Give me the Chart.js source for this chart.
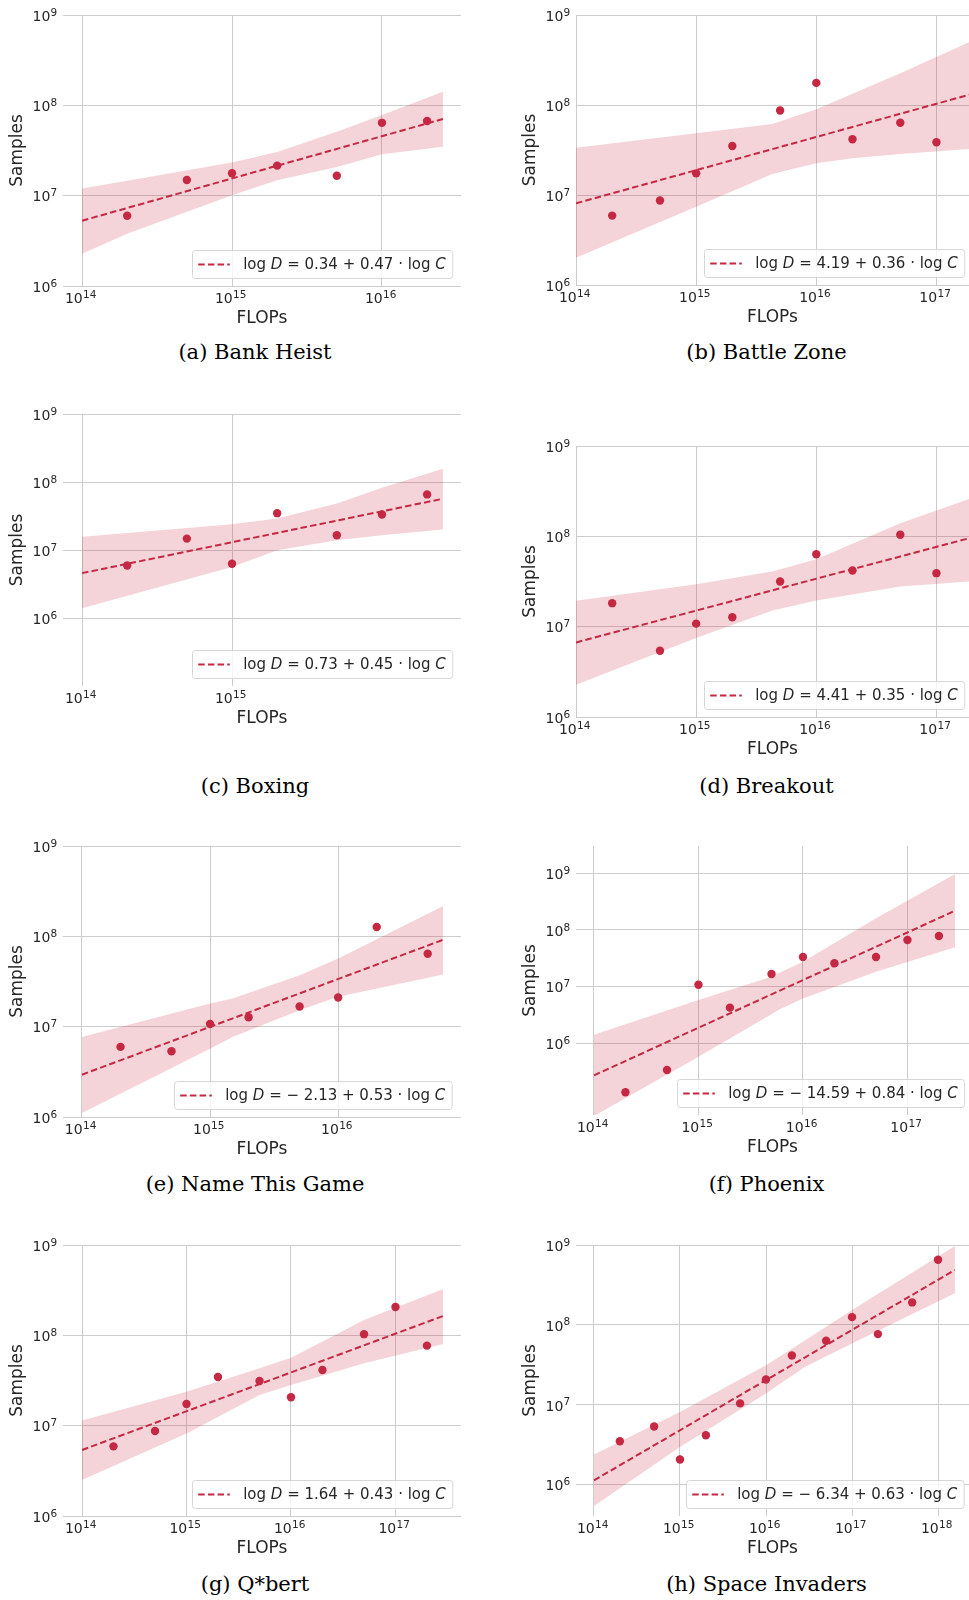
<!DOCTYPE html>
<html>
<head>
<meta charset="utf-8">
<script src="https://cdn.jsdelivr.net/npm/chart.js@4.4.1/dist/chart.umd.min.js"></script>
<style>
  html, body { margin: 0; padding: 0; background: #fff; }
  #page { position: relative; width: 969px; height: 1600px; overflow: hidden; }
  .panel { position: absolute; }
  .caption {
    position: absolute;
    width: 320px;
    text-align: center;
    font-family: 'DejaVu Serif', serif;
    font-size: 21px;
    line-height: 24px;
    color: #000;
    white-space: nowrap;
  }
</style>
</head>
<body>
<div id="page"></div>
<script>
// Compute budgets shared by every game: each run list uses the first n of them.
const computeBudgets = [2e14, 5e14, 1e15, 2e15, 5e15, 1e16, 2e16, 5e16, 1e17, 2e17, 5e17, 1e18];

// Samples needed at each budget.
const bankHeistSamples = [6.0e6, 1.49e7, 1.77e7, 2.15e7, 1.66e7, 6.4e7, 6.7e7];
const battleZoneSamples = [5.9e6, 8.7e6, 1.74e7, 3.5e7, 8.7e7, 1.76e8, 4.16e7, 6.36e7, 3.85e7];
const boxingSamples = [5.93e6, 1.47e7, 6.28e6, 3.48e7, 1.65e7, 3.33e7, 6.57e7];
const breakoutSamples = [1.82e7, 5.41e6, 1.08e7, 1.27e7, 3.16e7, 6.34e7, 4.18e7, 1.04e8, 3.91e7];
const nameThisGameSamples = [5.97e6, 5.35e6, 1.07e7, 1.27e7, 1.67e7, 2.1e7, 1.27e8, 6.41e7];
const phoenixSamples = [1.37e5, 3.38e5, 1.08e7, 4.26e6, 1.67e7, 3.34e7, 2.58e7, 3.34e7, 6.67e7, 7.84e7];
const qbertSamples = [5.9e6, 8.73e6, 1.74e7, 3.46e7, 3.12e7, 2.06e7, 4.13e7, 1.03e8, 2.06e8, 7.69e7];
const spaceInvadersSamples = [3.49e6, 5.33e6, 2.06e6, 4.15e6, 1.04e7, 2.07e7, 4.14e7, 6.32e7, 1.25e8, 7.66e7, 1.91e8, 6.55e8];

// Fitted power law: end points of the dashed line (FLOPs, samples).
const bankHeistFitX = [1e14, 2.55e16];
const bankHeistFitY = [5.28e6, 7.06e7];
const battleZoneFitX = [1e14, 1.87e17];
const battleZoneFitY = [8.08e6, 1.3e8];
const boxingFitX = [1e14, 2.55e16];
const boxingFitY = [4.57e6, 5.67e7];
const breakoutFitX = [1e14, 1.87e17];
const breakoutFitY = [6.69e6, 9.53e7];
const nameThisGameFitX = [1e14, 6.6e16];
const nameThisGameFitY = [2.94e6, 9.16e7];
const phoenixFitX = [1e14, 2.86e17];
const phoenixFitY = [2.72e5, 2.19e8];
const qbertFitX = [1e14, 2.86e17];
const qbertFitY = [5.38e6, 1.64e8];
const spaceInvadersFitX = [1e14, 1.57e18];
const spaceInvadersFitY = [1.13e6, 4.86e8];

// Confidence band around each fit (FLOPs, upper, lower).
const bankHeistBandX = [1e14, 2e14, 1e15, 2e15, 5e15, 1e16, 2.55e16];
const bankHeistBandHi = [1.2e7, 1.46e7, 2.33e7, 3.05e7, 5.1e7, 7.8e7, 1.41e8];
const bankHeistBandLo = [2.28e6, 3.8e6, 1.01e7, 1.48e7, 2.08e7, 2.88e7, 3.47e7];
const battleZoneBandX = [1e14, 1e15, 4.3e15, 1e16, 2e16, 5e16, 1.87e17];
const battleZoneBandHi = [3.36e7, 4.84e7, 6.15e7, 8.95e7, 1.33e8, 2.25e8, 4.97e8];
const battleZoneBandLo = [2.01e6, 7.4e6, 1.71e7, 2.25e7, 2.56e7, 2.86e7, 3.25e7];
const boxingBandX = [1e14, 1e15, 2e15, 5e15, 1e16, 2.55e16];
const boxingBandHi = [1.56e7, 2.39e7, 2.9e7, 4.84e7, 8.25e7, 1.56e8];
const boxingBandLo = [1.39e6, 5.6e6, 9.9e6, 1.39e7, 1.65e7, 2.0e7];
const breakoutBandX = [1e14, 1e15, 4.3e15, 1e16, 5e16, 1.87e17];
const breakoutBandHi = [1.93e7, 2.95e7, 4.07e7, 5.58e7, 1.4e8, 2.59e8];
const breakoutBandLo = [2.28e6, 7.47e6, 1.51e7, 1.95e7, 2.79e7, 3.16e7];
const nameThisGameBandX = [1e14, 1e15, 1.5e15, 5e15, 1e16, 6.6e16];
const nameThisGameBandHi = [7.7e6, 1.8e7, 2.05e7, 3.72e7, 5.69e7, 2.16e8];
const nameThisGameBandLo = [1.11e6, 5.71e6, 7.7e6, 1.52e7, 2.14e7, 3.78e7];
const phoenixBandX = [1e14, 1e15, 5e15, 5.8e15, 1e16, 5e16, 2.86e17];
const phoenixBandHi = [1.42e6, 5.82e6, 1.5e7, 1.73e7, 2.76e7, 1.61e8, 9.7e8];
const phoenixBandLo = [5.2e4, 5.8e5, 3.26e6, 3.87e6, 6.2e6, 1.84e7, 4.94e7];
const qbertBandX = [1e14, 1e15, 5e15, 1e16, 5e16, 2.86e17];
const qbertBandHi = [1.14e7, 2.38e7, 4.31e7, 5.66e7, 1.48e8, 3.26e8];
const qbertBandLo = [2.51e6, 8.2e6, 2.18e7, 2.82e7, 4.9e7, 8.0e7];
const spaceInvadersBandX = [1e14, 1e15, 1e16, 2.85e16, 1e17, 1.57e18];
const spaceInvadersBandHi = [2.38e6, 8.13e6, 3.13e7, 6.44e7, 1.53e8, 9.7e8];
const spaceInvadersBandLo = [5.4e5, 2.96e6, 1.38e7, 2.99e7, 5.85e7, 2.48e8];

// Tick labels.
const sampleTicks = [1e6, 1e7, 1e8, 1e9];
const flopTicks3 = [1e14, 1e15, 1e16];
const flopTicks4 = [1e14, 1e15, 1e16, 1e17];
const flopTicks5 = [1e14, 1e15, 1e16, 1e17, 1e18];
const boxingFlopTicks = [1e14, 1e15];

const fitLabels = [
  'log D = 0.34 + 0.47 · log C',
  'log D = 4.19 + 0.36 · log C',
  'log D = 0.73 + 0.45 · log C',
  'log D = 4.41 + 0.35 · log C',
  'log D = − 2.13 + 0.53 · log C',
  'log D = − 14.59 + 0.84 · log C',
  'log D = 1.64 + 0.43 · log C',
  'log D = − 6.34 + 0.63 · log C',
];
const captions = [
  '(a) Bank Heist', '(b) Battle Zone', '(c) Boxing', '(d) Breakout',
  '(e) Name This Game', '(f) Phoenix', '(g) Q*bert', '(h) Space Invaders',
];

// ---- styling / layout ----
const RED = 'rgb(197, 40, 66)';
const BAND = 'rgba(204, 40, 66, 0.2)';
const INK = '#262626';
const GRID = '#cccccc';
const TOP_PAD = 15;
const X_AXIS_H = 50;

// plot rectangle on the page [left, top, right, bottom], axis limits as log10 exponents
const LAYOUT = [
  { plot: [63, 15, 461, 286], xLim: [13.873, 16.527], yLim: [6, 9], col: 0, capY: 353 },
  { plot: [576, 15, 969, 285], xLim: [14, 17.271], yLim: [6, 9], col: 1, capY: 353 },
  { plot: [63, 414, 461, 686], xLim: [13.873, 16.527], yLim: [5, 9], col: 0, capY: 787 },
  { plot: [576, 446, 969, 717], xLim: [14, 17.271], yLim: [6, 9], col: 1, capY: 787 },
  { plot: [63, 846, 461, 1117], xLim: [13.852, 16.959], yLim: [6, 9], col: 0, capY: 1185 },
  { plot: [576, 846, 969, 1115], xLim: [13.828, 17.589], yLim: [4.735, 9.482], col: 1, capY: 1185 },
  { plot: [63, 1245, 461, 1516], xLim: [13.818, 17.627], yLim: [6, 9], col: 0, capY: 1585 },
  { plot: [576, 1245, 969, 1516], xLim: [13.791, 18.36], yLim: [5.607, 9], col: 1, capY: 1585 },
];
const COLS = [
  { left: 0, width: 485, capX: 255, legendInset: 9 },
  { left: 485, width: 484, capX: 766.5, legendInset: 5 },
];

const games = [
  { samples: bankHeistSamples, fitX: bankHeistFitX, fitY: bankHeistFitY, bandX: bankHeistBandX, hi: bankHeistBandHi, lo: bankHeistBandLo, xTicks: flopTicks3 },
  { samples: battleZoneSamples, fitX: battleZoneFitX, fitY: battleZoneFitY, bandX: battleZoneBandX, hi: battleZoneBandHi, lo: battleZoneBandLo, xTicks: flopTicks4 },
  { samples: boxingSamples, fitX: boxingFitX, fitY: boxingFitY, bandX: boxingBandX, hi: boxingBandHi, lo: boxingBandLo, xTicks: boxingFlopTicks },
  { samples: breakoutSamples, fitX: breakoutFitX, fitY: breakoutFitY, bandX: breakoutBandX, hi: breakoutBandHi, lo: breakoutBandLo, xTicks: flopTicks4 },
  { samples: nameThisGameSamples, fitX: nameThisGameFitX, fitY: nameThisGameFitY, bandX: nameThisGameBandX, hi: nameThisGameBandHi, lo: nameThisGameBandLo, xTicks: flopTicks3 },
  { samples: phoenixSamples, fitX: phoenixFitX, fitY: phoenixFitY, bandX: phoenixBandX, hi: phoenixBandHi, lo: phoenixBandLo, xTicks: flopTicks4 },
  { samples: qbertSamples, fitX: qbertFitX, fitY: qbertFitY, bandX: qbertBandX, hi: qbertBandHi, lo: qbertBandLo, xTicks: flopTicks4 },
  { samples: spaceInvadersSamples, fitX: spaceInvadersFitX, fitY: spaceInvadersFitY, bandX: spaceInvadersBandX, hi: spaceInvadersBandHi, lo: spaceInvadersBandLo, xTicks: flopTicks5 },
];

const zip = (xs, ys) => xs.map((x, i) => ({ x, y: ys[i] }));
const exponentOf = (v) => String(Math.round(Math.log10(v)));

// Power-of-ten tick labels with a real raised exponent (matplotlib mathtext look).
const BASE_FONT = '14px "DejaVu Sans"';
const EXP_FONT = '10.5px "DejaVu Sans"';
const powerTicks = {
  id: 'powerTicks',
  afterDraw(chart) {
    const { ctx, chartArea: a } = chart;
    const xs = chart.scales.x, ys = chart.scales.y;
    ctx.save();
    ctx.fillStyle = INK;
    ctx.textBaseline = 'alphabetic';
    ctx.textAlign = 'left';
    const widths = (exp) => {
      ctx.font = BASE_FONT;
      const wb = ctx.measureText('10').width;
      ctx.font = EXP_FONT;
      return [wb, ctx.measureText(exp).width];
    };
    const put = (exp, left, baseline, wb) => {
      ctx.font = BASE_FONT;
      ctx.fillText('10', left, baseline);
      ctx.font = EXP_FONT;
      ctx.fillText(exp, left + wb + 0.3, baseline - 5.2);
    };
    for (const t of xs.ticks) {
      const exp = exponentOf(t.value);
      const [wb, we] = widths(exp);
      const px = xs.getPixelForValue(t.value);
      put(exp, px - (wb + we) / 2 - 1.5, a.bottom + 17.4, wb);
    }
    for (const t of ys.ticks) {
      const exp = exponentOf(t.value);
      const [wb, we] = widths(exp);
      const py = ys.getPixelForValue(t.value);
      put(exp, a.left - 6 - we - wb, py + 5.8, wb);
    }
    ctx.restore();
  },
};

// Legend box drawn by hand so D and C can be italic, as in the mathtext original.
const fitLegend = {
  id: 'fitLegend',
  afterDatasetsDraw(chart, args, opts) {
    const { ctx, chartArea: a } = chart;
    const label = chart.data.datasets[1].label;
    const parts = label.split(/([DC])/).filter(Boolean);
    const fontFor = (p) => (p === 'D' || p === 'C' ? 'italic ' : '') + '15px "DejaVu Sans"';
    ctx.save();
    let textW = 0;
    for (const p of parts) {
      ctx.font = fontFor(p);
      textW += ctx.measureText(p).width;
    }
    const h = 28, padL = 5.7, lineLen = 31.6, gap = 13.4, padR = 7;
    const w = padL + lineLen + gap + textW + padR;
    const right = a.right - opts.inset;
    const bottom = a.bottom - 8.5;
    const x = Math.round(right - w) + 0.5;
    const y = Math.round(bottom - h) + 0.5;
    ctx.beginPath();
    ctx.roundRect(x, y, w, h, 3);
    ctx.fillStyle = 'rgba(255,255,255,0.8)';
    ctx.fill();
    ctx.strokeStyle = '#d6d6d6';
    ctx.lineWidth = 1;
    ctx.stroke();

    const cy = y + h / 2;
    ctx.beginPath();
    ctx.setLineDash([6.5, 3.2]);
    ctx.strokeStyle = RED;
    ctx.lineWidth = 2;
    ctx.moveTo(x + padL, cy);
    ctx.lineTo(x + padL + lineLen, cy);
    ctx.stroke();
    ctx.setLineDash([]);

    ctx.fillStyle = INK;
    ctx.textBaseline = 'middle';
    let tx = x + padL + lineLen + gap;
    for (const p of parts) {
      ctx.font = fontFor(p);
      ctx.fillText(p, tx, cy + 1);
      tx += ctx.measureText(p).width;
    }
    ctx.restore();
  },
};

Chart.defaults.font.family = 'DejaVu Sans';

const page = document.getElementById('page');

games.forEach((g, i) => {
  const lay = LAYOUT[i];
  const col = COLS[lay.col];
  const [L, T, R, B] = lay.plot;
  const plotH = B - T;
  const canvasTop = T - TOP_PAD;
  const canvasH = TOP_PAD + plotH + X_AXIS_H;

  const wrap = document.createElement('div');
  wrap.className = 'panel';
  wrap.style.left = col.left + 'px';
  wrap.style.top = canvasTop + 'px';
  const canvas = document.createElement('canvas');
  canvas.width = col.width;
  canvas.height = canvasH;
  canvas.style.width = col.width + 'px';
  canvas.style.height = canvasH + 'px';
  wrap.appendChild(canvas);
  page.appendChild(wrap);

  const cap = document.createElement('div');
  cap.className = 'caption';
  cap.textContent = captions[i];
  cap.style.left = col.capX - 160 + 'px';
  cap.style.top = lay.capY - 12.8 + 'px';
  page.appendChild(cap);

  const yAxisW = L - col.left;
  const padRight = col.left + col.width - R;

  new Chart(canvas, {
    type: 'line',
    data: {
      datasets: [
        {
          label: 'runs',
          data: zip(computeBudgets.slice(0, g.samples.length), g.samples),
          showLine: false,
          pointRadius: 4.2,
          pointBackgroundColor: RED,
          pointBorderWidth: 0,
        },
        {
          label: fitLabels[i],
          data: zip(g.fitX, g.fitY),
          borderColor: RED,
          borderDash: [6.5, 3.2],
          borderWidth: 2,
          pointRadius: 0,
          fill: false,
        },
        {
          label: 'ci upper',
          data: zip(g.bandX, g.hi),
          borderWidth: 0,
          borderColor: 'transparent',
          pointRadius: 0,
          backgroundColor: BAND,
          fill: '+1',
        },
        {
          label: 'ci lower',
          data: zip(g.bandX, g.lo),
          borderWidth: 0,
          borderColor: 'transparent',
          pointRadius: 0,
          fill: false,
        },
      ],
    },
    options: {
      responsive: false,
      animation: false,
      events: [],
      layout: { padding: { top: TOP_PAD, right: padRight, left: 0, bottom: 0 }, autoPadding: false },
      plugins: {
        legend: { display: false },
        tooltip: { enabled: false },
        fitLegend: { inset: col.legendInset },
      },
      scales: {
        x: {
          type: 'logarithmic',
          min: 10 ** lay.xLim[0],
          max: 10 ** lay.xLim[1],
          afterBuildTicks: (s) => { s.ticks = g.xTicks.map((value) => ({ value })); },
          afterFit: (s) => { s.height = X_AXIS_H; },
          ticks: { display: false },
          grid: { color: GRID, drawTicks: false, lineWidth: 1 },
          border: { display: false },
          title: {
            display: true,
            text: 'FLOPs',
            color: INK,
            font: { size: 17, lineHeight: 1.2 },
            padding: { top: 0, bottom: X_AXIS_H - 33 - 10.2 },
          },
        },
        y: {
          type: 'logarithmic',
          min: 10 ** lay.yLim[0],
          max: 10 ** lay.yLim[1],
          afterBuildTicks: (s) => { s.ticks = sampleTicks.map((value) => ({ value })); },
          afterFit: (s) => { s.width = yAxisW; },
          ticks: { display: false },
          grid: { color: GRID, drawTicks: false, lineWidth: 1 },
          border: { display: false },
          title: {
            display: true,
            text: 'Samples',
            color: INK,
            font: { size: 17, lineHeight: 1.2 },
            padding: { top: yAxisW - 45 - 10.2, bottom: 0 },
          },
        },
      },
    },
    plugins: [fitLegend, powerTicks],
  });
});
</script>
</body>
</html>
